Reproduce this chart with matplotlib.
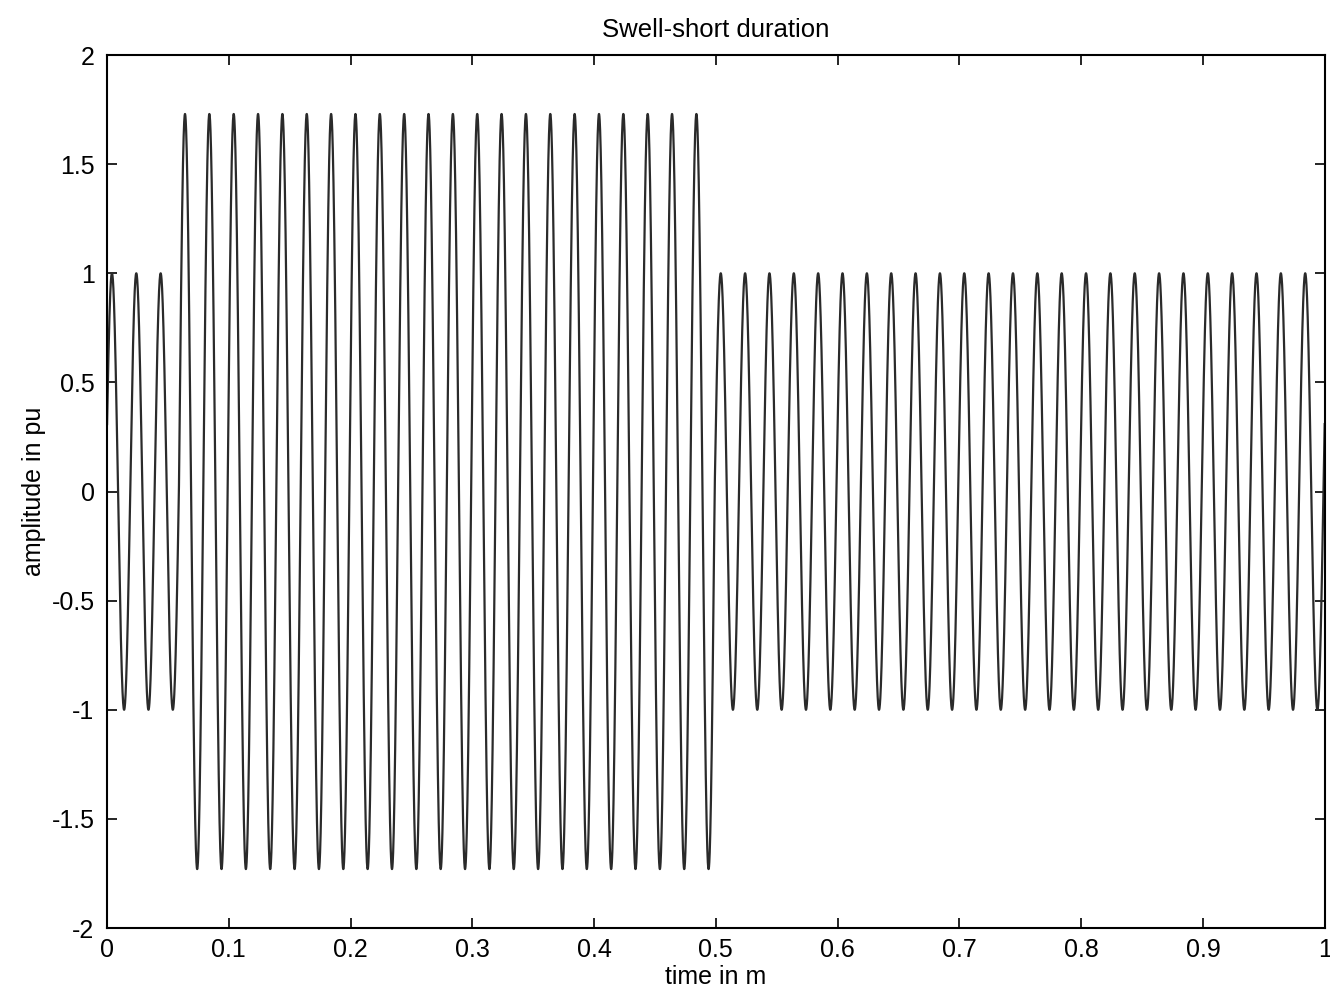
import numpy as np
from matplotlib import pyplot as plt

plt.rcParams['font.family'] = ['Liberation Sans', 'DejaVu Sans']

# signal description
freq_hz = 50.0
first_peak_s = 0.004
seg_start = [0.0, 0.059, 0.499]
seg_end = [0.059, 0.499, 1.0]
seg_amp = [1.0, 1.73, 1.0]

xticks = [0, 0.1, 0.2, 0.3, 0.4, 0.5, 0.6, 0.7, 0.8, 0.9, 1]
xticklabels = ['0', '0.1', '0.2', '0.3', '0.4', '0.5', '0.6', '0.7', '0.8', '0.9', '1']
yticks = [-2, -1.5, -1, -0.5, 0, 0.5, 1, 1.5, 2]
yticklabels = ['-2', '-1.5', '-1', '-0.5', '0', '0.5', '1', '1.5', '2']

t = np.linspace(0, 1, 20001)
amp = np.ones_like(t)
for a, b, v in zip(seg_start, seg_end, seg_amp):
    amp[(t >= a) & (t <= b)] = v
wave = amp * np.cos(2 * np.pi * freq_hz * (t - first_peak_s))

fig = plt.figure(figsize=(13.3, 9.9), dpi=100)
ax = fig.add_axes([0.0805, 0.0626, 0.9155, 0.8818])

ax.plot(t, wave, color='#2a2a2a', lw=1.6)

ax.set_xlim(0, 1)
ax.set_ylim(-2, 2)
ax.set_xticks(xticks)
ax.set_xticklabels(xticklabels)
ax.set_yticks(yticks)
ax.set_yticklabels(yticklabels)
ax.tick_params(direction='in', top=True, right=True, length=7, width=1.2,
               labelsize=18)
ax.tick_params(axis='x', pad=7)
ax.tick_params(axis='y', pad=9)
for s in ax.spines.values():
    s.set_linewidth(1.5)

ax.set_title('Swell-short duration', fontsize=18.5, pad=13)
ax.set_xlabel('time in m', fontsize=18, labelpad=2)
ax.set_ylabel('amplitude in pu', fontsize=18, labelpad=4)

plt.savefig('out.png', dpi=100)
